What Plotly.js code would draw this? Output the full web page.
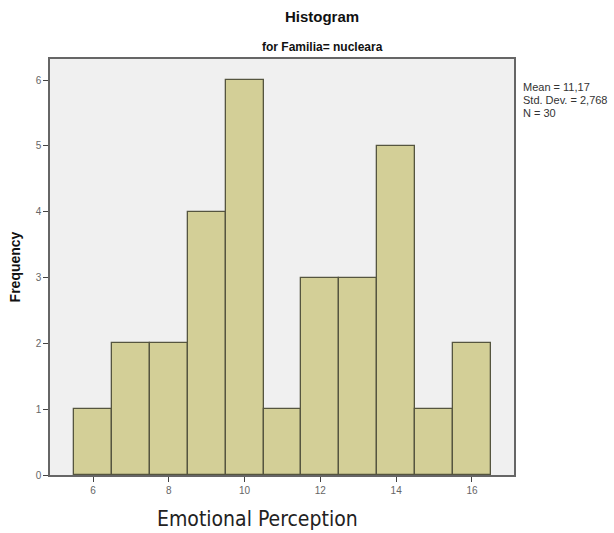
<!DOCTYPE html>
<html>
<head>
<meta charset="utf-8">
<script src="https://cdn.plot.ly/plotly-3.0.1.min.js"></script>
<style>html,body{margin:0;padding:0;background:#fff;}#chart{width:614px;height:533px;}</style>
</head>
<body>
<div id="chart"></div>
<script>
const binCenters = [6, 7, 8, 9, 10, 11, 12, 13, 14, 15, 16];
const frequencies = [1, 2, 2, 4, 6, 1, 3, 3, 5, 1, 2];
const xTickVals = [6, 8, 10, 12, 14, 16];
const yTickVals = [0, 1, 2, 3, 4, 5, 6];
const statsLines = ["Mean = 11,17", "Std. Dev. = 2,768", "N = 30"];

const trace = {
  type: 'bar',
  x: binCenters,
  y: frequencies,
  width: 1,
  marker: {color: '#d3cf97', line: {color: '#55553f', width: 1.3}},
  hoverinfo: 'x+y'
};

const plotTop = 59, plotBottom = 475;
const statsY = [87, 100, 113];
const statsAnn = statsLines.map((t, i) => ({
  text: t, xref: 'paper', yref: 'paper', x: 1.0, xshift: 7,
  y: (plotBottom - statsY[i]) / (plotBottom - plotTop),
  xanchor: 'left', yanchor: 'middle', align: 'left', showarrow: false,
  font: {family: 'Liberation Sans, Arial, sans-serif', size: 11, color: '#333'}
}));

const layout = {
  width: 614, height: 533,
  paper_bgcolor: '#ffffff',
  plot_bgcolor: '#f0f0f0',
  margin: {l: 50, r: 100, t: 59, b: 58},
  showlegend: false,
  bargap: 0,
  title: {
    text: '<b>Histogram</b>',
    font: {family: 'Liberation Sans, Arial, sans-serif', size: 15, color: '#111'},
    x: 322 / 614, xanchor: 'center', y: 1 - 17 / 533, yanchor: 'middle'
  },
  xaxis: {
    range: [4.865, 17.11],
    tickvals: xTickVals,
    ticks: 'outside', ticklen: 5, tickcolor: '#444', tickwidth: 1,
    tickfont: {family: 'Liberation Sans, Arial, sans-serif', size: 10, color: '#666'},
    showline: true, linecolor: '#666', linewidth: 1.5, mirror: true,
    showgrid: false, zeroline: false
  },
  yaxis: {
    range: [0, 6.32],
    tickvals: yTickVals,
    ticks: 'outside', ticklen: 5, tickcolor: '#444', tickwidth: 1,
    tickfont: {family: 'Liberation Sans, Arial, sans-serif', size: 10, color: '#666'},
    showline: true, linecolor: '#666', linewidth: 1.5, mirror: true,
    showgrid: false, zeroline: false,
    title: {text: '<b>Frequency</b>', font: {family: 'Liberation Sans, Arial, sans-serif', size: 14, color: '#111'}, standoff: 12}
  },
  annotations: [
    {text: '<b>for Familia= nucleara</b>', xref: 'paper', yref: 'paper', x: (322 - 50) / 464, y: 1.0, yshift: 12, xanchor: 'center', yanchor: 'middle', showarrow: false,
     font: {family: 'Liberation Sans, Arial, sans-serif', size: 12, color: '#111'}},
    {text: 'Emotional Perception', xref: 'paper', yref: 'paper', x: (257 - 50) / 464, y: 0, yshift: -44, xanchor: 'center', yanchor: 'middle', showarrow: false,
     font: {family: 'DejaVu Sans Condensed, Liberation Sans Narrow, sans-serif', size: 21, color: '#222'}}
  ].concat(statsAnn)
};

Plotly.newPlot('chart', [trace], layout, {displayModeBar: false});
</script>
</body>
</html>
